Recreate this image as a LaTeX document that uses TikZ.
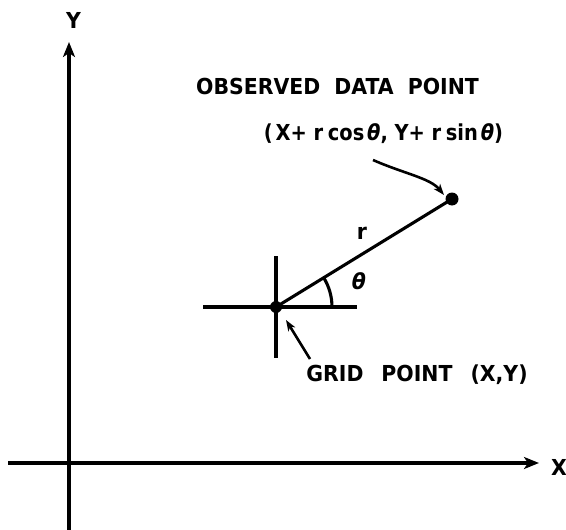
\documentclass[tikz,border=0pt]{standalone}
\usepackage{fontspec}
\setmainfont{DejaVu Sans}[FakeStretch=0.93]
\usetikzlibrary{arrows.meta}
\begin{document}
\begin{tikzpicture}[x=1pt,y=-1pt,line width=3.1pt,
  lbl/.style={font=\bfseries\fontsize{22}{22}\selectfont, inner sep=0pt, anchor=base},
  tip/.style={-{Stealth[length=15pt,width=12pt,inset=4pt]}},
  smalltip/.style={-{Stealth[length=11pt,width=8pt,inset=3pt]}},
  dot/.style={circle, fill=black, inner sep=0pt}]
\useasboundingbox (0,0) rectangle (566,530);
% axes
\coordinate (ybot) at (69,530);
\coordinate (ytop) at (69,42);
\coordinate (xl) at (8,463);
\coordinate (xr) at (539,463);
\draw[tip] (ybot) -- (ytop);
\draw[tip] (xl) -- (xr);
\node[lbl] (ylab) at (73.5,28) {Y};
\node[lbl] (xlab) at (559,475) {X};
% grid point
\node[dot, minimum size=12pt] (G) at (276,307) {};
\coordinate (hl) at (203,307);
\coordinate (hr) at (357,307);
\coordinate (vt) at (276,256);
\coordinate (vb) at (276,358);
\draw (hl) -- (hr);
\draw (vt) -- (vb);
% data point
\node[dot, minimum size=13pt] (D) at (452,199) {};
\draw (G.center) -- (D.center);
% angle arc
\draw (332,307) arc[start angle=0, end angle=-31.6, radius=56];
\node[lbl, anchor=center] (th) at (359,281) {\itshape θ};
\node[lbl, anchor=center] (r) at (362,233) {r};
% labels
\node[lbl] (obs) at (337.5,94) {OBSERVED\hspace{14pt}DATA\hspace{14pt}POINT};
\node[lbl] (crd) at (383.5,140) {\scalebox{0.95}[1]{(\hspace{3pt}X+\hspace{7pt}r\hspace{5pt}cos\hspace{3pt}{\itshape θ},\hspace{7pt}Y+\hspace{7pt}r\hspace{5pt}sin\hspace{3pt}{\itshape θ})}};
\node[lbl] (grid) at (417,381) {GRID\hspace{18pt}POINT\hspace{18pt}(X,Y)};
% pointers
\coordinate (c1) at (373,160);
\coordinate (c2) at (444,195);
\draw[smalltip, line width=2.6pt] (c1) .. controls (405,174) and (430,178) .. (c2);
\coordinate (g1) at (310,359);
\coordinate (g2) at (286,320);
\draw[smalltip, line width=2.6pt] (g1) -- (g2);
\end{tikzpicture}
\end{document}
